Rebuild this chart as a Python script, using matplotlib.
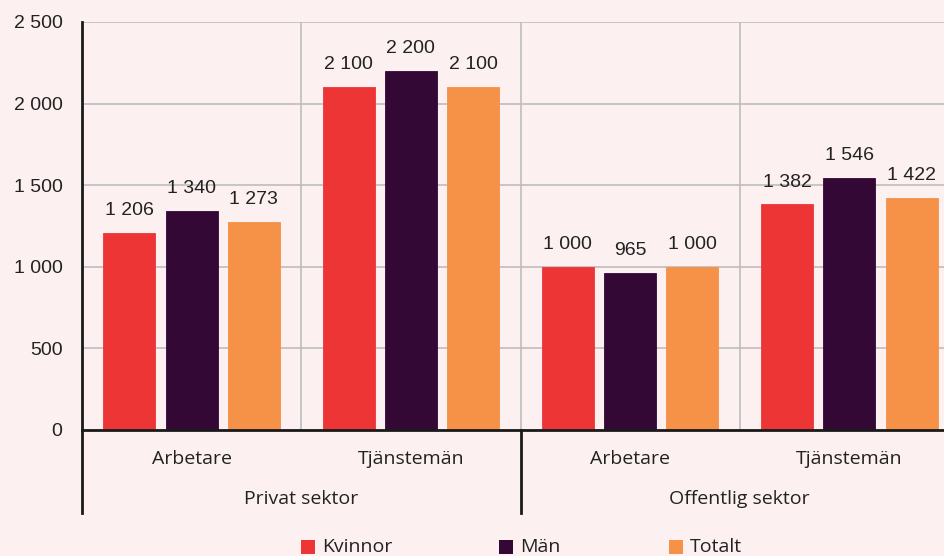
import matplotlib
matplotlib.use("Agg")
import matplotlib.pyplot as plt
import numpy as np
from matplotlib.patches import Rectangle
from matplotlib.lines import Line2D
from matplotlib.transforms import blended_transform_factory

categories = ["Arbetare", "Tjänstemän", "Arbetare", "Tjänstemän"]
groups = ["Privat sektor", "Offentlig sektor"]
series_names = ["Kvinnor", "Män", "Totalt"]
kvinnor = [1206, 2100, 1000, 1382]
man = [1340, 2200, 965, 1546]
totalt = [1273, 2100, 1000, 1422]
yticks = [0, 500, 1000, 1500, 2000, 2500]

colors = ["#ee3536", "#330835", "#f69148"]
bg = "#fcf0f0"
num_font = "Liberation Sans"
lab_font = "Open Sans"

fig = plt.figure(figsize=(9.45, 5.56), dpi=100, facecolor=bg)
W, H = 945, 556
ax = fig.add_axes([82 / W, (H - 430) / H, (959 - 82) / W, (430 - 22) / H])
ax.set_facecolor(bg)

x = np.arange(len(categories))
bw = 0.237
step = 0.284
for i, (vals, c) in enumerate(zip([kvinnor, man, totalt], colors)):
    pos = x + (i - 1) * step
    ax.bar(pos, vals, width=bw, color=c, edgecolor=c, linewidth=0.6, zorder=3)
    for p, v in zip(pos, vals):
        s = f"{v:,}".replace(",", " ")
        ax.annotate(s, (p, v), xytext=(0, 10), textcoords="offset points",
                    ha="center", va="bottom", fontsize=14, family=num_font,
                    color="#222222", zorder=4)

ax.set_xlim(-0.5, 3.5)
ax.set_ylim(0, 2500)
ax.set_yticks(yticks)
ax.set_yticklabels([f"{t:,}".replace(",", " ") for t in yticks], family=num_font,
                   fontsize=14, color="#222222")
ax.tick_params(axis="y", length=0, pad=14)
ax.set_xticks([])
ax.grid(axis="y", color="#bdbdbd", linewidth=1.2, zorder=0)
for xv in [0.5, 1.5, 2.5]:
    ax.axvline(xv, color="#bdbdbd", linewidth=1.2, zorder=0)
for s in ["top", "right"]:
    ax.spines[s].set_visible(False)
ax.spines["left"].set_color("#1a1a1a")
ax.spines["left"].set_linewidth(2)
ax.spines["bottom"].set_color("#1a1a1a")
ax.spines["bottom"].set_linewidth(2)
ax.spines["bottom"].set_zorder(5)

trans = blended_transform_factory(ax.transData, fig.transFigure)
for xi, c in zip(x, categories):
    ax.text(xi, (H - 459) / H, c, transform=trans, ha="center", va="center",
            fontsize=14, family=lab_font, color="#222222")
for gi, g in enumerate(groups):
    ax.text(0.5 + 2 * gi, (H - 499) / H, g, transform=trans, ha="center", va="center",
            fontsize=14, family=lab_font, color="#222222")
for xv in [-0.5, 1.5]:
    ax.add_line(Line2D([xv, xv], [(H - 430) / H, (H - 513) / H], transform=trans,
                       color="#1a1a1a", linewidth=2, clip_on=False))

# legend (manual placement)
leg_marker_x = [301, 499, 669]
leg_y = 547
for mx, name, c in zip(leg_marker_x, series_names, colors):
    fig.patches.append(Rectangle((mx / W, (H - leg_y - 7) / H), 14 / W, 14 / H,
                                 transform=fig.transFigure, facecolor=c, edgecolor="none"))
    fig.text((mx + 21) / W, (H - leg_y) / H, name, ha="left", va="center",
             fontsize=14, family=lab_font, color="#222222")

fig.savefig("out.png", dpi=100, facecolor=bg)
